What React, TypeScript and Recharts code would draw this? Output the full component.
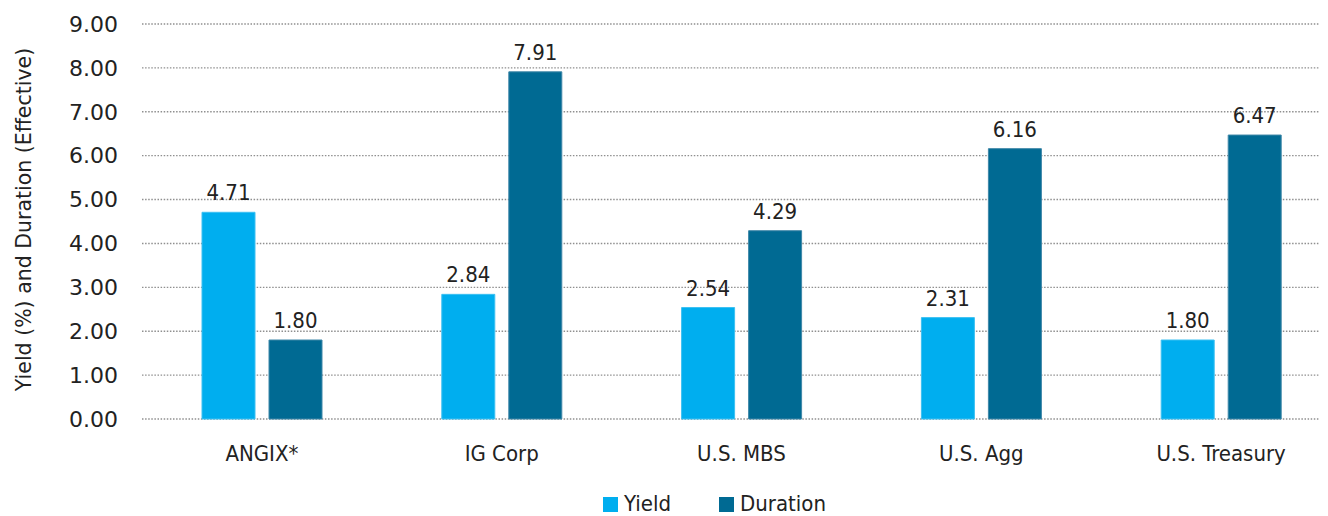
import React from 'react';
import { BarChart, Bar, XAxis, YAxis, CartesianGrid, Legend, LabelList, Label } from 'recharts';

const categories = ['ANGIX*', 'IG Corp', 'U.S. MBS', 'U.S. Agg', 'U.S. Treasury'];
const yieldValues = [4.71, 2.84, 2.54, 2.31, 1.8];
const durationValues = [1.8, 7.91, 4.29, 6.16, 6.47];
const yTicks = [0, 1, 2, 3, 4, 5, 6, 7, 8, 9];
const seriesNames = ['Yield', 'Duration'];
const seriesColors: Record<string, string> = { Yield: '#00AEEF', Duration: '#006A93' };
const seriesStrokes: Record<string, string> = { Yield: '#3cc0f2', Duration: '#3f87a8' };

const data = categories.map((c, i) => ({ name: c, Yield: yieldValues[i], Duration: durationValues[i] }));

const COND = '"DejaVu Sans Condensed", "DejaVu Sans", sans-serif';
const REG = '"DejaVu Sans", sans-serif';
const TEXT = '#222222';

const renderLegend = () => {
  return (
    <div
      style={{
        display: 'flex',
        alignItems: 'center',
        fontFamily: COND,
        fontSize: 22,
        lineHeight: '22px',
        height: 22,
        color: TEXT,
        whiteSpace: 'nowrap',
      }}
    >
      {seriesNames.map((s, i) => (
        <div key={s} style={{ display: 'flex', alignItems: 'center', marginRight: i === 0 ? 48 : 0 }}>
          <span
            style={{
              display: 'inline-block',
              width: 15,
              height: 15,
              background: seriesColors[s],
              marginRight: 6,
            }}
          />
          <span>{s}</span>
        </div>
      ))}
    </div>
  );
};

const renderYLabel = (props: any) => {
  const vb = props.viewBox || { x: 0, y: 0, width: 0, height: 0 };
  const cx = vb.x + 16;
  const cy = vb.y + vb.height / 2 - 2;
  return (
    <text
      x={cx}
      y={cy}
      transform={`rotate(-90, ${cx}, ${cy})`}
      textAnchor="middle"
      dominantBaseline="central"
      fontFamily={REG}
      fontSize={20.5}
      fill={TEXT}
    >
      Yield (%) and Duration (Effective)
    </text>
  );
};

export default function App() {
  return (
    <div style={{ width: 1320, height: 508, overflow: 'hidden' }}>
      <BarChart
        width={1333}
        height={508}
        data={data}
        margin={{ top: 16, right: 0, bottom: 25, left: 0 }}
        barSize={53}
        barGap={14}
      >
        <CartesianGrid vertical={false} stroke="#8f8f8f" strokeDasharray="1.5 1.6" strokeWidth={1.4} />
        <XAxis
          dataKey="name"
          axisLine={false}
          tickLine={false}
          tickSize={0}
          tickMargin={26}
          height={50}
          interval={0}
          tick={{ fontFamily: COND, fontSize: 22, fill: TEXT }}
        />
        <YAxis
          width={134}
          domain={[0, 9]}
          ticks={yTicks}
          interval={0}
          axisLine={false}
          tickLine={false}
          tickSize={0}
          tickMargin={24}
          tickFormatter={(v: number) => v.toFixed(2)}
          tick={{ fontFamily: REG, fontSize: 22, fill: TEXT }}
        >
          <Label content={renderYLabel} />
        </YAxis>
        <Legend
          verticalAlign="bottom"
          content={renderLegend}
          wrapperStyle={{ left: 595, top: 485, bottom: 'auto', width: 'auto', height: 22 }}
        />
        {seriesNames.map((s) => (
          <Bar
            key={s}
            dataKey={s}
            name={s}
            fill={seriesColors[s]}
            stroke={seriesStrokes[s]}
            strokeWidth={1}
            isAnimationActive={false}
          >
            <LabelList
              dataKey={s}
              position="top"
              offset={12}
              formatter={(v: any) => Number(v).toFixed(2)}
              style={{ fontFamily: COND, fontSize: 22, fill: TEXT }}
            />
          </Bar>
        ))}
      </BarChart>
    </div>
  );
}
